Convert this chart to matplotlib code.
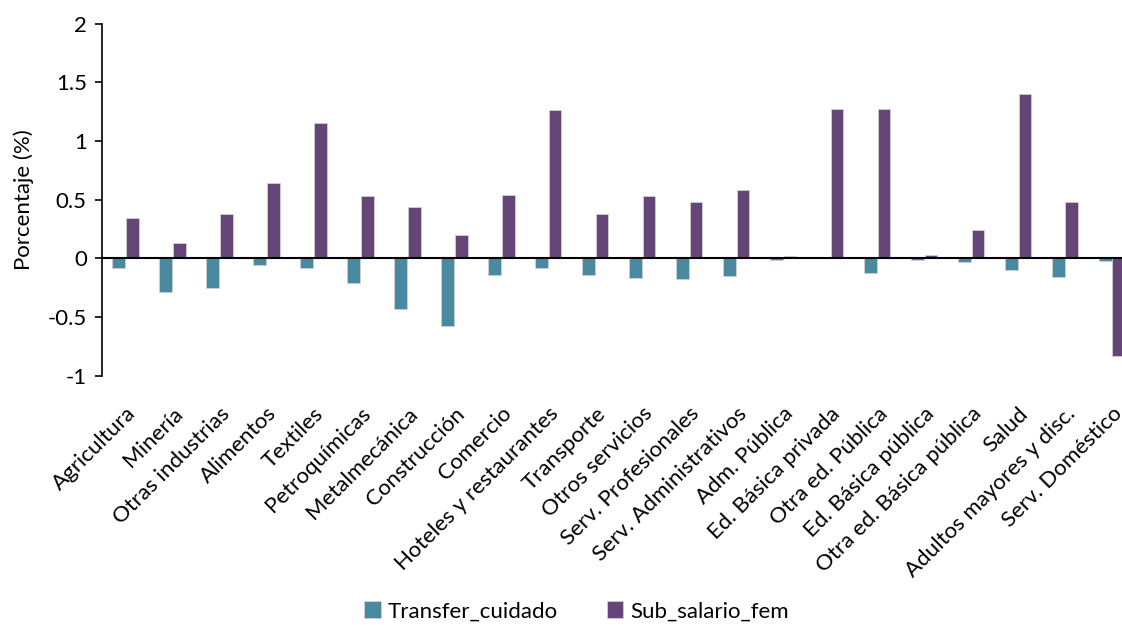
""" Bar chart: transfer vs wage subsidy by sector """

# imports
import matplotlib
matplotlib.use('Agg')
import matplotlib.pyplot as plt
import numpy as np

# data
sectores = ['Agricultura', 'Minería', 'Otras industrias', 'Alimentos', 'Textiles',
            'Petroquímicas', 'Metalmecánica', 'Construcción', 'Comercio',
            'Hoteles y restaurantes', 'Transporte', 'Otros servicios',
            'Serv. Profesionales', 'Serv. Administrativos', 'Adm. Pública',
            'Ed. Básica privada', 'Otra ed. Pública', 'Ed. Básica pública',
            'Otra ed. Básica pública', 'Salud', 'Adultos mayores y disc.',
            'Serv. Doméstico']
transfer_cuidado = [-0.08, -0.29, -0.25, -0.06, -0.085, -0.21, -0.43, -0.577, -0.145,
                    -0.08, -0.145, -0.165, -0.18, -0.148, -0.01, 0.015, -0.125, -0.01,
                    -0.03, -0.10, -0.155, -0.025]
sub_salario_fem = [0.345, 0.13, 0.375, 0.643, 1.152, 0.532, 0.435, 0.202, 0.541,
                   1.263, 0.381, 0.529, 0.478, 0.58, 0.023, 1.275, 1.27, 0.028,
                   0.24, 1.405, 0.478, -0.83]
yticks = [-1, -0.5, 0, 0.5, 1, 1.5, 2]
yticklabels = ['-1', '-0.5', '0', '0.5', '1', '1.5', '2']

# style
plt.rcParams['font.family'] = ['Lato', 'DejaVu Sans']
teal = '#4a8aa0'
purple = '#654477'
fs = 16

fig = plt.figure(figsize=(11.22, 6.25), dpi=100)
ax = fig.add_axes([0.091, 0.399, 0.921, 0.563])

x = np.arange(len(sectores))
w = 0.27
ax.bar(x - w / 2 - 0.01, transfer_cuidado, w, color=teal, edgecolor='#d0d0d0',
       linewidth=0.6, label='Transfer_cuidado')
ax.bar(x + w / 2 + 0.01, sub_salario_fem, w, color=purple, edgecolor='#d0d0d0',
       linewidth=0.6, label='Sub_salario_fem')
ax.axhline(0, color='black', linewidth=1.5, zorder=3)

# axes
ax.set_xlim(-0.5, len(sectores) - 0.5)
ax.set_ylim(-1, 2)
ax.set_yticks(yticks)
ax.set_yticklabels(yticklabels, fontsize=fs)
ax.set_ylabel('Porcentaje (%)', fontsize=fs, labelpad=10)
ax.set_xticks(x)
ax.set_xticklabels(sectores, rotation=45, ha='right', rotation_mode='anchor', fontsize=fs)
ax.tick_params(axis='x', length=0, pad=20)
ax.tick_params(axis='y', length=5, width=1.2, direction='out', pad=6)
for s in ['top', 'right', 'bottom']:
	ax.spines[s].set_visible(False)
ax.spines['left'].set_linewidth(1.2)

# legend
ax.legend(loc='center', bbox_to_anchor=(0.459, -0.67), ncol=2, frameon=False,
          fontsize=fs, handlelength=0.75, handleheight=0.75, columnspacing=2.2, handletextpad=0.3)

fig.savefig('out.png', dpi=100)
